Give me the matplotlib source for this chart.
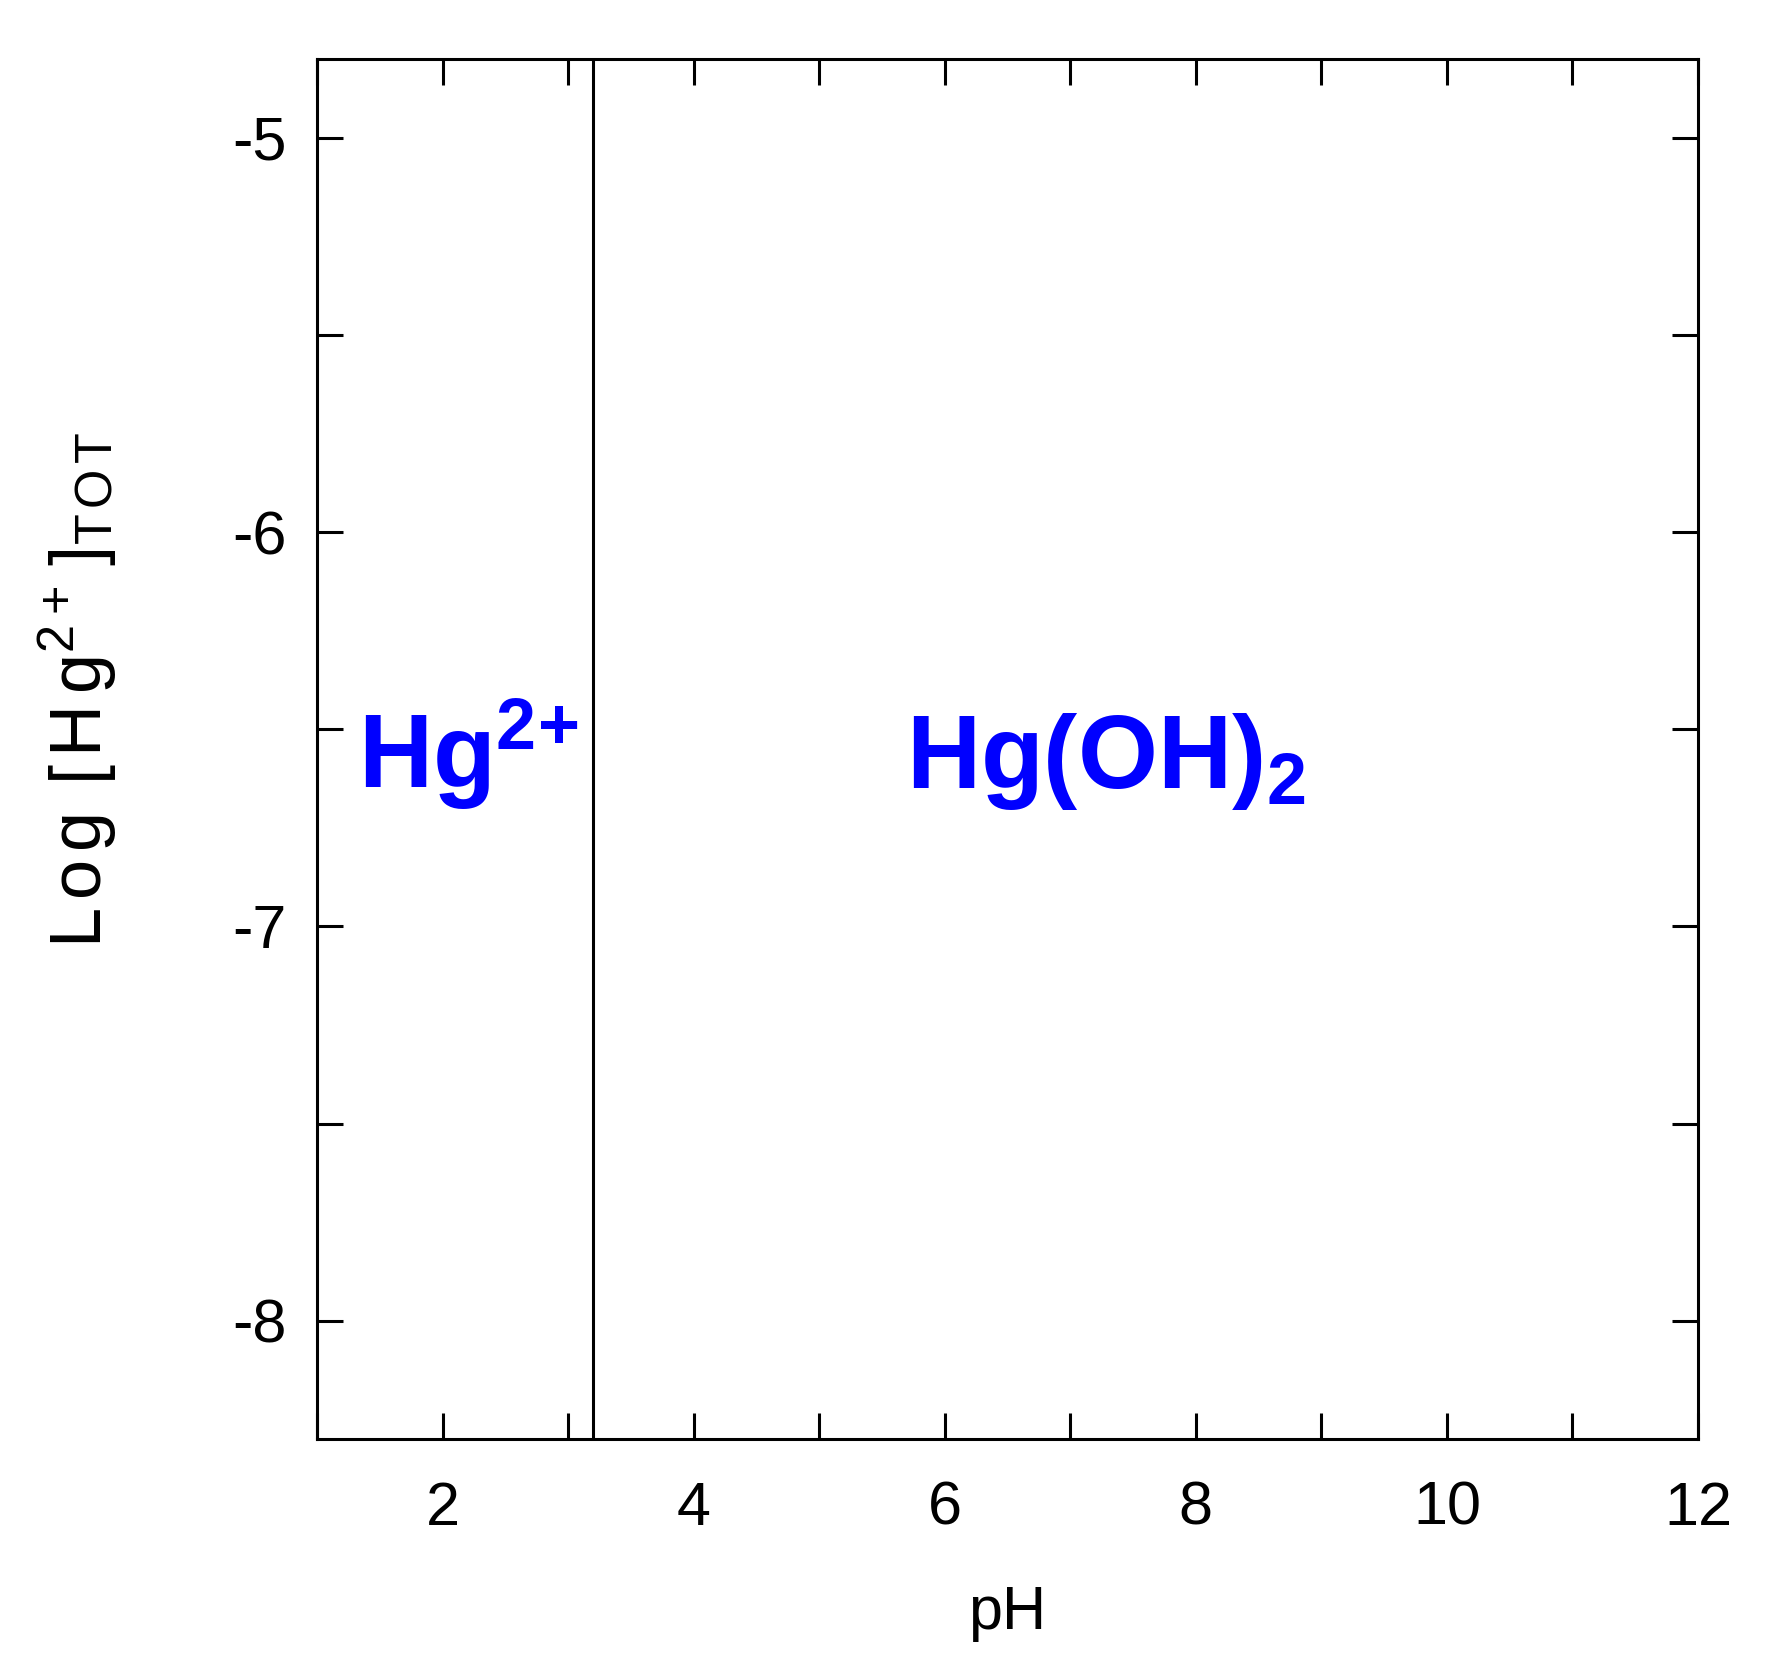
import matplotlib
matplotlib.use("Agg")
import matplotlib.pyplot as plt
from matplotlib.ticker import MultipleLocator

plt.rcParams['font.family'] = ['Liberation Sans', 'DejaVu Sans']
plt.rcParams['mathtext.fontset'] = 'custom'
plt.rcParams['mathtext.rm'] = 'Liberation Sans'
plt.rcParams['mathtext.it'] = 'Liberation Sans:italic'
plt.rcParams['mathtext.bf'] = 'Liberation Sans:bold'
plt.rcParams['axes.unicode_minus'] = False

# Data
x_limits = [1, 12]
y_limits = [-8.3, -4.8]
boundary_ph = [3.2, 3.2]
boundary_logc = [-8.3, -4.8]
x_tick_labels = [2, 4, 6, 8, 10, 12]
y_tick_labels = [-8, -7, -6, -5]
region_labels = [r"$\mathbf{Hg^{2\!+}}$", r"$\mathbf{Hg(OH)_2}$"]
region_x = [1.33, 5.69]
region_y = [-6.65, -6.65]
x_label = 'pH'
y_label = (r"$\mathrm{L\hspace{0.13}o\hspace{0.13}g\hspace{0.45}[\hspace{0.13}H\hspace{0.18}g"
           r"^{2\hspace{0.05}+}\hspace{0.15}]_{T\hspace{0.13}O\hspace{0.13}T}}$")

fig = plt.figure(figsize=(17.84, 16.72), dpi=100)
ax = fig.add_axes([0.1777, 0.1394, 0.7741, 0.8253])

ax.plot(boundary_ph, boundary_logc, color='black', lw=2.2)

for lab, xx, yy in zip(region_labels, region_x, region_y):
    ax.text(xx, yy, lab, color='#0000ff', fontsize=74, ha='left', va='baseline')

ax.set_xlim(*x_limits)
ax.set_ylim(*y_limits)
ax.set_xticks(x_tick_labels)
ax.set_xticklabels([str(v) for v in x_tick_labels])
ax.set_yticks(y_tick_labels)
ax.set_yticklabels([str(v) for v in y_tick_labels])
ax.xaxis.set_minor_locator(MultipleLocator(1))
ax.yaxis.set_minor_locator(MultipleLocator(0.5))

for s in ax.spines.values():
    s.set_linewidth(2.2)

ax.tick_params(which='both', direction='in', top=True, right=True, width=2.2)
ax.tick_params(which='major', length=19, labelsize=44)
ax.tick_params(which='minor', length=19)
ax.tick_params(axis='x', which='major', pad=30)
ax.tick_params(axis='y', which='major', pad=22)

ax.set_xlabel(x_label, fontsize=44, labelpad=34)
fig.text(78 / 1784, 1 - 690 / 1672, y_label, fontsize=52, rotation=90,
         ha='center', va='center')

fig.savefig('out.png', dpi=100, facecolor='white')
